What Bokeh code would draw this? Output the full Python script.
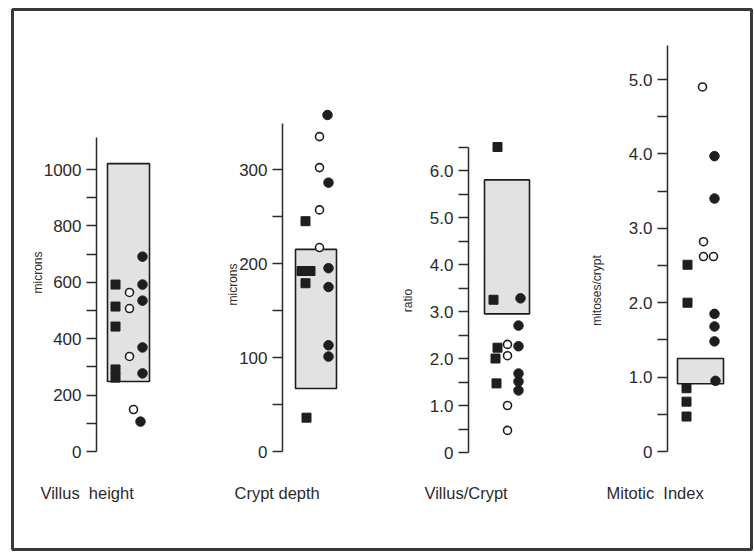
import math
from bokeh.plotting import figure
from bokeh.models import Range1d, LinearAxis, FixedTicker, ColumnDataSource
from bokeh.core.properties import value
from bokeh.embed import file_html
from bokeh.resources import INLINE

# ---------------- data ----------------
panel_titles = ["Villus\u00a0\u00a0height", "Crypt depth", "Villus/Crypt", "Mitotic\u00a0\u00a0Index"]
unit_labels = ["microns", "microns", "ratio", "mitoses/crypt"]

villus_squares = [592, 514, 443, 291, 262]
villus_open = [564, 507, 337, 149]
villus_filled = [691, 592, 535, 369, 277, 106]
villus_box = [248, 1021]

crypt_squares = [245, 192, 192, 179, 36]
crypt_open = [335, 302, 257, 217]
crypt_filled = [358, 286, 195, 175, 113, 101]
crypt_box = [67, 215]

ratio_squares = [6.5, 3.25, 2.23, 2.0, 1.47]
ratio_open = [2.30, 2.06, 1.0, 0.47]
ratio_filled = [3.28, 2.70, 2.26, 1.68, 1.51, 1.32]
ratio_box = [2.95, 5.8]

mitotic_squares = [2.51, 2.0, 0.85, 0.67, 0.47]
mitotic_open = [4.9, 2.82, 2.62, 2.62]
mitotic_filled = [3.97, 3.40, 1.85, 1.68, 1.48, 0.95]
mitotic_box = [0.91, 1.25]

major_ticks = [[0, 200, 400, 600, 800, 1000],
               [0, 100, 200, 300],
               [0, 1, 2, 3, 4, 5, 6],
               [0, 1, 2, 3, 4, 5]]
minor_ticks = [[100, 300, 500, 700, 900],
               [50, 150, 250],
               [0.5, 1.5, 2.5, 3.5, 4.5, 5.5, 6.5],
               [0.5, 1.5, 2.5, 3.5, 4.5]]
tick_labels = [["0", "200", "400", "600", "800", "1000"],
               ["0", "100", "200", "300"],
               ["0", "1.0", "2.0", "3.0", "4.0", "5.0", "6.0"],
               ["0", "1.0", "2.0", "3.0", "4.0", "5.0"]]
axis_tops = [1113, 349, 6.5, 5.46]

squares = [villus_squares, crypt_squares, ratio_squares, mitotic_squares]
opens = [villus_open, crypt_open, ratio_open, mitotic_open]
filleds = [villus_filled, crypt_filled, ratio_filled, mitotic_filled]
boxes = [villus_box, crypt_box, ratio_box, mitotic_box]

# ---------------- layout (page pixel space; canvas sits at page origin) ----------------
W, H = 753, 551
FL, FR, FT, FB = 12, 751, 9, 549          # frame edges
axis_x = [96, 282, 468, 667]
zero_y = [451, 451, 452, 451]
px_per_unit = [0.282, 0.94, 47.0, 74.4]
box_x = [(11, 53), (13, 54), (16, 61), (10, 56)]
sq_dx = [[19, 19, 19, 19, 19], [23, 19, 28, 23, 24], [29, 25, 29, 27, 28], [20, 20, 19, 19, 19]]
op_dx = [[33, 33, 33, 37], [37, 37, 37, 37], [39, 39, 39, 39], [35, 36, 36, 46]]
fi_dx = [[46, 46, 46, 46, 46, 44], [45, 46, 46, 46, 46, 46], [52, 50, 50, 50, 50, 50], [47, 47, 47, 47, 47, 48]]
unit_pos = [(37, 272), (232, 284), (407, 300), (596, 290)]
title_x = [40, 234, 424, 606]
title_y = 492

INK = "#2b2b2b"

p = figure(width=W, height=H, output_backend="svg", toolbar_location=None,
           x_range=Range1d(FL, FR), y_range=Range1d(FB, FT),
           x_axis_location=None, y_axis_location=None,
           min_border_left=FL, min_border_top=FT,
           min_border_right=W - FR, min_border_bottom=H - FB,
           background_fill_color="white", border_fill_color="white",
           outline_line_color="#3a3a3a", outline_line_width=3)
p.grid.visible = False

for k in range(4):
    name = f"p{k}"
    start = (zero_y[k] - FB) / px_per_unit[k]
    end = (zero_y[k] - FT) / px_per_unit[k]
    p.extra_y_ranges[name] = Range1d(start, end)

    ax = LinearAxis(y_range_name=name, fixed_location=axis_x[k],
                    bounds=(0, axis_tops[k]),
                    ticker=FixedTicker(ticks=major_ticks[k], minor_ticks=minor_ticks[k]),
                    major_label_overrides={t: s for t, s in zip(major_ticks[k], tick_labels[k])},
                    axis_line_color=INK, axis_line_width=1.5,
                    major_tick_line_color=INK, major_tick_line_width=1.5,
                    minor_tick_line_color=INK, minor_tick_line_width=1.5,
                    major_tick_out=10, major_tick_in=0,
                    minor_tick_out=10, minor_tick_in=0,
                    major_label_standoff=5,
                    major_label_text_font="Liberation Sans",
                    major_label_text_font_size="17px",
                    major_label_text_color=INK)
    p.add_layout(ax, "left")

    bsrc = ColumnDataSource(dict(left=[axis_x[k] + box_x[k][0]], right=[axis_x[k] + box_x[k][1]],
                                 bottom=[boxes[k][0]], top=[boxes[k][1]]))
    p.quad(left="left", right="right", bottom="bottom", top="top", source=bsrc,
           y_range_name=name, fill_color="#e2e2e2", line_color="#1e1e1e", line_width=1.6)

    ssrc = ColumnDataSource(dict(x=[axis_x[k] + d for d in sq_dx[k]], y=squares[k]))
    p.scatter("x", "y", source=ssrc, y_range_name=name, marker="square", size=9,
              fill_color="#1e1e1e", line_color="#1e1e1e")
    osrc = ColumnDataSource(dict(x=[axis_x[k] + d for d in op_dx[k]], y=opens[k]))
    p.scatter("x", "y", source=osrc, y_range_name=name, marker="circle", size=8,
              fill_color="white", line_color="#1e1e1e", line_width=1.6)
    fsrc = ColumnDataSource(dict(x=[axis_x[k] + d for d in fi_dx[k]], y=filleds[k]))
    p.scatter("x", "y", source=fsrc, y_range_name=name, marker="circle", size=9.5,
              fill_color="#1e1e1e", line_color="#1e1e1e")

usrc = ColumnDataSource(dict(x=[u[0] for u in unit_pos], y=[u[1] for u in unit_pos], t=unit_labels))
p.text("x", "y", text="t", source=usrc, angle=math.pi / 2, text_align="center",
       text_baseline="middle", text_font=value("Liberation Sans"), text_font_size="12px",
       text_color=INK)

tsrc = ColumnDataSource(dict(x=title_x, y=[title_y] * 4, t=panel_titles))
p.text("x", "y", text="t", source=tsrc, text_align="left", text_baseline="middle",
       text_font=value("Liberation Sans"), text_font_size="16.5px", text_color=INK)

open("out.html", "w").write(file_html(p, INLINE))
